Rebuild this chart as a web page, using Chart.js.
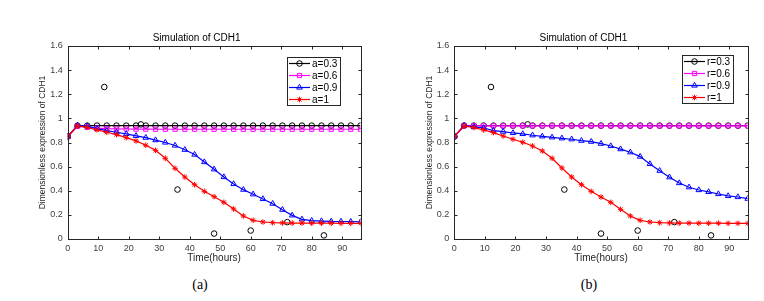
<!DOCTYPE html>
<html>
<head>
<meta charset="utf-8">
<script src="https://cdn.jsdelivr.net/npm/chart.js@4.4.1/dist/chart.umd.min.js"></script>
<style>
  html, body { margin: 0; padding: 0; background: #fff; }
  #wrap { position: relative; width: 764px; height: 301px; overflow: hidden; }
  canvas { position: absolute; top: 0; }
  #chartA { left: 0; }
  #chartB { left: 382px; }
  .cap { position: absolute; top: 276px; width: 40px; text-align: center; font: 14px "Liberation Serif", "Times New Roman", serif; line-height: 18px; color: #000; }
</style>
</head>
<body>
<div id="wrap">
  <canvas id="chartA" width="382" height="268"></canvas>
  <canvas id="chartB" width="382" height="268"></canvas>
  <div class="cap" style="left:180px">(a)</div>
  <div class="cap" style="left:569px">(b)</div>
</div>
<script>
// time points of the simulation (hours)
const time = [0, 3.2, 6.4, 9.6, 12.8, 16, 19.2, 22.4, 25.6, 28.8, 32, 35.2, 38.4, 41.6, 44.8, 48,
  51.2, 54.4, 57.6, 60.8, 64, 67.2, 70.4, 73.6, 76.8, 80, 83.2, 86.4, 89.6, 92.8, 96];

// experimental points (black circles, no line)
const expTime = [0, 12, 24, 36, 48, 60, 72, 84];
const expValue = [0.85, 1.26, 0.95, 0.41, 0.045, 0.07, 0.14, 0.03];

// panel (a)
const labelsA = ['a=0.3', 'a=0.6', 'a=0.9', 'a=1'];
const a03 = [0.85, 0.94, 0.94, 0.94, 0.94, 0.94, 0.94, 0.94, 0.94, 0.94, 0.94, 0.94, 0.94, 0.94, 0.94, 0.94,
  0.94, 0.94, 0.94, 0.94, 0.94, 0.94, 0.94, 0.94, 0.94, 0.94, 0.94, 0.94, 0.94, 0.94, 0.94];
const a06 = [0.85, 0.935, 0.926, 0.919, 0.915, 0.913, 0.912, 0.911, 0.911, 0.91, 0.91, 0.91, 0.91, 0.91, 0.91, 0.91,
  0.91, 0.91, 0.91, 0.91, 0.91, 0.91, 0.91, 0.91, 0.91, 0.91, 0.91, 0.91, 0.91, 0.91, 0.91];
const a09 = [0.85, 0.94, 0.935, 0.915, 0.898, 0.885, 0.871, 0.855, 0.84, 0.82, 0.80, 0.775, 0.74, 0.70, 0.638, 0.578,
  0.514, 0.456, 0.409, 0.371, 0.332, 0.293, 0.243, 0.196, 0.163, 0.152, 0.149, 0.146, 0.145, 0.144, 0.143];
const a1 = [0.85, 0.937, 0.926, 0.904, 0.885, 0.865, 0.84, 0.813, 0.777, 0.735, 0.669, 0.586, 0.514, 0.45, 0.395, 0.351,
  0.304, 0.249, 0.191, 0.155, 0.141, 0.135, 0.133, 0.132, 0.132, 0.131, 0.131, 0.131, 0.13, 0.13, 0.13];

// panel (b)
const labelsB = ['r=0.3', 'r=0.6', 'r=0.9', 'r=1'];
const r03 = [0.85, 0.94, 0.94, 0.94, 0.94, 0.94, 0.94, 0.94, 0.94, 0.94, 0.94, 0.94, 0.94, 0.94, 0.94, 0.94,
  0.94, 0.94, 0.94, 0.94, 0.94, 0.94, 0.94, 0.94, 0.94, 0.94, 0.94, 0.94, 0.94, 0.94, 0.94];
const r06 = [0.85, 0.938, 0.938, 0.938, 0.938, 0.938, 0.938, 0.938, 0.938, 0.938, 0.938, 0.938, 0.938, 0.938, 0.938, 0.938,
  0.938, 0.938, 0.938, 0.938, 0.938, 0.938, 0.938, 0.938, 0.938, 0.938, 0.938, 0.938, 0.938, 0.938, 0.938];
const r09 = [0.85, 0.94, 0.93, 0.92, 0.898, 0.89, 0.879, 0.871, 0.86, 0.851, 0.843, 0.835, 0.827, 0.815, 0.807, 0.79,
  0.771, 0.745, 0.719, 0.683, 0.622, 0.566, 0.512, 0.464, 0.429, 0.406, 0.39, 0.373, 0.357, 0.348, 0.334];
const r1 = [0.85, 0.937, 0.923, 0.904, 0.882, 0.854, 0.827, 0.802, 0.771, 0.73, 0.669, 0.589, 0.514, 0.45, 0.395, 0.348,
  0.304, 0.246, 0.191, 0.155, 0.141, 0.135, 0.133, 0.132, 0.132, 0.131, 0.131, 0.131, 0.13, 0.13, 0.13];

const yTicks = [0, 0.2, 0.4, 0.6, 0.8, 1, 1.2, 1.4, 1.6];

const FONT = '"Liberation Sans", Arial, sans-serif';
const AXIS = '#262626';

// matlab style box with inward ticks
const axesBox = {
  id: 'axesBox',
  afterDatasetsDraw(chart) {
    const {ctx, chartArea: a, scales} = chart;
    const L = Math.round(a.left) + 0.5, R = Math.round(a.right) + 0.5;
    const T = Math.round(a.top) + 0.5, B = Math.round(a.bottom) + 0.5;
    ctx.save();
    ctx.strokeStyle = AXIS;
    ctx.lineWidth = 1;
    ctx.beginPath();
    scales.x.ticks.forEach(t => {
      const px = Math.round(scales.x.getPixelForValue(t.value)) + 0.5;
      ctx.moveTo(px, B); ctx.lineTo(px, B - 3);
      ctx.moveTo(px, T); ctx.lineTo(px, T + 3);
    });
    scales.y.ticks.forEach(t => {
      const py = Math.round(scales.y.getPixelForValue(t.value)) + 0.5;
      ctx.moveTo(L, py); ctx.lineTo(L + 3, py);
      ctx.moveTo(R, py); ctx.lineTo(R - 3, py);
    });
    ctx.stroke();
    ctx.strokeRect(L, T, R - L, B - T);
    ctx.restore();
  }
};

// legend box inside the axes, top right
const boxLegend = {
  id: 'boxLegend',
  afterDraw(chart, args, opts) {
    const {ctx, chartArea: area} = chart;
    const items = chart.data.datasets.filter(d => d.inLegend);
    ctx.save();
    ctx.font = '10px ' + FONT;
    const textW = Math.max(...items.map(d => ctx.measureText(d.label).width));
    const w = 1 + 22 + 2 + textW + 3;
    const h = 12 * items.length;
    const x0 = Math.round(area.right - opts.right - w);
    const y0 = Math.round(area.top + opts.top);
    ctx.fillStyle = '#fff';
    ctx.fillRect(x0, y0, w, h);
    ctx.strokeStyle = AXIS;
    ctx.lineWidth = 1;
    ctx.strokeRect(x0 + 0.5, y0 + 0.5, Math.round(w), h);
    items.forEach((d, i) => {
      const cy = y0 + 6.5 + 12 * i;
      ctx.strokeStyle = d.borderColor;
      ctx.lineWidth = d.borderWidth;
      ctx.beginPath();
      ctx.moveTo(x0 + 2, cy);
      ctx.lineTo(x0 + 23, cy);
      ctx.stroke();
      ctx.lineWidth = 1;
      ctx.fillStyle = 'rgba(0,0,0,0)';
      Chart.helpers.drawPoint(ctx, {pointStyle: d.pointStyle, radius: d.pointRadius, rotation: 0, borderWidth: 1}, x0 + 12.5, cy);
      ctx.fillStyle = '#000';
      ctx.textAlign = 'left';
      ctx.textBaseline = 'middle';
      ctx.fillText(d.label, x0 + 25, cy + 0.5);
    });
    ctx.restore();
  }
};

function pts(xs, ys) {
  return xs.map((x, i) => ({x: x, y: ys[i]}));
}

function makeChart(id, labels, series, padL, padR, legendPos) {
  const colors = ['#000000', '#ff00ff', '#0000ff', '#ff0000'];
  const styles = ['circle', 'rect', 'triangle', 'star'];
  const radii = [2.8, 3, 3.2, 2.8];
  const datasets = series.map((s, i) => ({
    label: labels[i],
    data: pts(time, s),
    inLegend: true,
    borderColor: colors[i],
    backgroundColor: 'rgba(0,0,0,0)',
    pointBorderColor: colors[i],
    pointBackgroundColor: 'rgba(0,0,0,0)',
    pointStyle: styles[i],
    pointRadius: radii[i],
    pointBorderWidth: 1,
    borderWidth: 1.2,
    tension: 0,
    order: 3 - i
  }));
  datasets.push({
    label: 'data',
    data: pts(expTime, expValue),
    showLine: false,
    borderColor: '#000',
    pointBorderColor: '#000',
    pointBackgroundColor: 'rgba(0,0,0,0)',
    pointStyle: 'circle',
    pointRadius: 2.8,
    pointBorderWidth: 1,
    order: 4
  });

  return new Chart(document.getElementById(id), {
    type: 'line',
    data: {datasets: datasets},
    plugins: [axesBox, boxLegend],
    options: {
      responsive: false,
      animation: false,
      devicePixelRatio: 1,
      layout: {padding: {left: padL, right: padR, top: 0, bottom: 0}},
      scales: {
        x: {
          type: 'linear',
          min: 0,
          max: 96,
          afterFit(scale) { scale.height = 29; },
          grid: {display: false, drawTicks: false},
          border: {display: false},
          ticks: {
            stepSize: 10,
            includeBounds: false,
            padding: 4,
            color: '#404040',
            font: {family: FONT, size: 9}
          },
          title: {
            display: true,
            text: 'Time(hours)',
            color: AXIS,
            font: {family: FONT, size: 10},
            padding: {top: 0, bottom: 3.3}
          }
        },
        y: {
          min: 0,
          max: 1.6,
          afterFit(scale) { scale.width = 35; },
          afterBuildTicks(scale) { scale.ticks = yTicks.map(v => ({value: v})); },
          grid: {display: false, drawTicks: false},
          border: {display: false},
          ticks: {
            padding: 5,
            color: '#404040',
            font: {family: FONT, size: 9},
            callback: v => String(+v.toFixed(1))
          },
          title: {
            display: true,
            text: 'Dimensionless expression of CDH1',
            color: AXIS,
            font: {family: FONT, size: 8.5},
            padding: {top: 5, bottom: 0}
          }
        }
      },
      plugins: {
        legend: {display: false},
        tooltip: {enabled: false},
        title: {
          display: true,
          text: 'Simulation of CDH1',
          color: '#000',
          font: {family: FONT, size: 10, weight: 'normal'},
          padding: {top: 32.7, bottom: 1.3}
        },
        boxLegend: legendPos
      }
    }
  });
}

makeChart('chartA', labelsA, [a03, a06, a09, a1], 32.7, 21.5, {right: 20.5, top: 11.3});
makeChart('chartB', labelsB, [r03, r06, r09, r1], 37.3, 16.3, {right: 14.7, top: 9});
</script>
</body>
</html>
